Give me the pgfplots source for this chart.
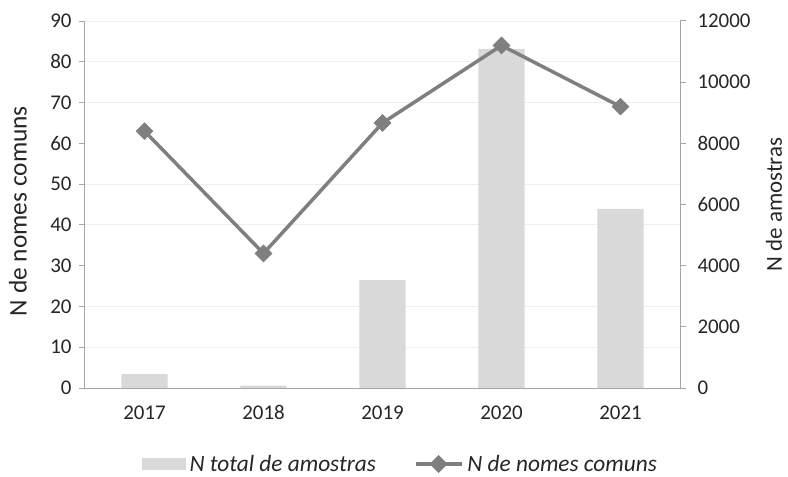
\documentclass[border=0pt]{standalone}
\usepackage{pgfplots}
\pgfplotsset{compat=1.18}
\usepackage{fontspec}
\setmainfont{Carlito}
\definecolor{barc}{HTML}{D9D9D9}
\definecolor{linec}{HTML}{7F7F7F}
\definecolor{axc}{HTML}{A6A6A6}
\definecolor{gridc}{HTML}{EEEEEE}
\definecolor{txt}{HTML}{262626}
\begin{document}
\begin{tikzpicture}
\path[use as bounding box] (-85bp,-89bp) rectangle (703bp,388bp);
\pgfplotsset{
  common/.style={
    scale only axis, width=595bp, height=367bp, at={(0,0)}, anchor=south west,
    xmin=-0.5, xmax=4.5, xtick={0,...,4}, xticklabels={2017,2018,2019,2020,2021},
    font=\fontsize{21}{25}\selectfont, /pgf/number format/assume math mode=true,
    /pgf/number format/1000 sep={},
    axis line style={axc, line width=1bp},
    tick style={axc, line width=1bp}, tick align=outside, major tick length=6bp,
    ticklabel style={text=txt},
    label style={text=txt},
  }
}
% bars on right axis
\begin{axis}[common,
  axis y line*=right, axis x line=none,
  ymin=0, ymax=12000, ytick={0,2000,...,12000}, scaled y ticks=false,
  yticklabel style={xshift=8bp},
  ylabel={N de amostras},
  ylabel style={at={(axis description cs:1.158,0.5)}, anchor=center, inner sep=0pt, font=\fontsize{23}{27}\selectfont},
  extra y ticks={1333.333,2666.667,5333.333,6666.667,9333.333,10666.667,12000},
  extra y tick labels={},
  extra y tick style={grid=major, major tick length=0pt},
  grid style={gridc, line width=0.8bp},
]
\addplot[ybar, bar width=0.39, fill=barc, draw=none] coordinates {
  (0,450) (1,80) (2,3530) (3,11090) (4,5860)
};
\end{axis}
% line on left axis
\begin{axis}[common,
  axis y line*=left, axis x line*=bottom,
  ymin=0, ymax=90, ytick={0,10,...,90},
  xtick style={draw=none},
  xticklabel style={yshift=-8bp},
  yticklabel style={xshift=-4bp},
  ylabel={N de nomes comuns},
  ylabel style={at={(axis description cs:-0.1126,0.482)}, anchor=center, font=\fontsize{25.5}{30}\selectfont},
  legend style={at={(axis description cs:0.532,-0.207)}, anchor=center,
    draw=none, fill=none, legend columns=2,
    font=\fontsize{23.4}{27}\selectfont\itshape, text=txt,
    nodes={inner ysep=1bp, inner xsep=4bp},
    /tikz/every even column/.append style={column sep=34bp}},
]
\addlegendimage{legend image code/.code={\fill[barc] (0bp,-5.5bp) rectangle (43bp,5.5bp);}}
\addlegendentry{N total de amostras}
\addplot[linec, line width=3.5bp, mark=square*, mark size=6bp,
  mark options={rotate=45, fill=linec, draw=linec, line width=0.5bp},
  legend image code/.code={\draw[linec, line width=3.5bp] (0bp,0bp) -- (46bp,0bp);
    \fill[linec] (23bp,0bp) ++(-6.5bp,0) -- ++(6.5bp,6.5bp) -- ++(6.5bp,-6.5bp) -- ++(-6.5bp,-6.5bp) -- cycle;}]
 coordinates {(0,63) (1,33) (2,65) (3,84) (4,69)};
\addlegendentry{N de nomes comuns}
\end{axis}
\end{tikzpicture}
\end{document}
